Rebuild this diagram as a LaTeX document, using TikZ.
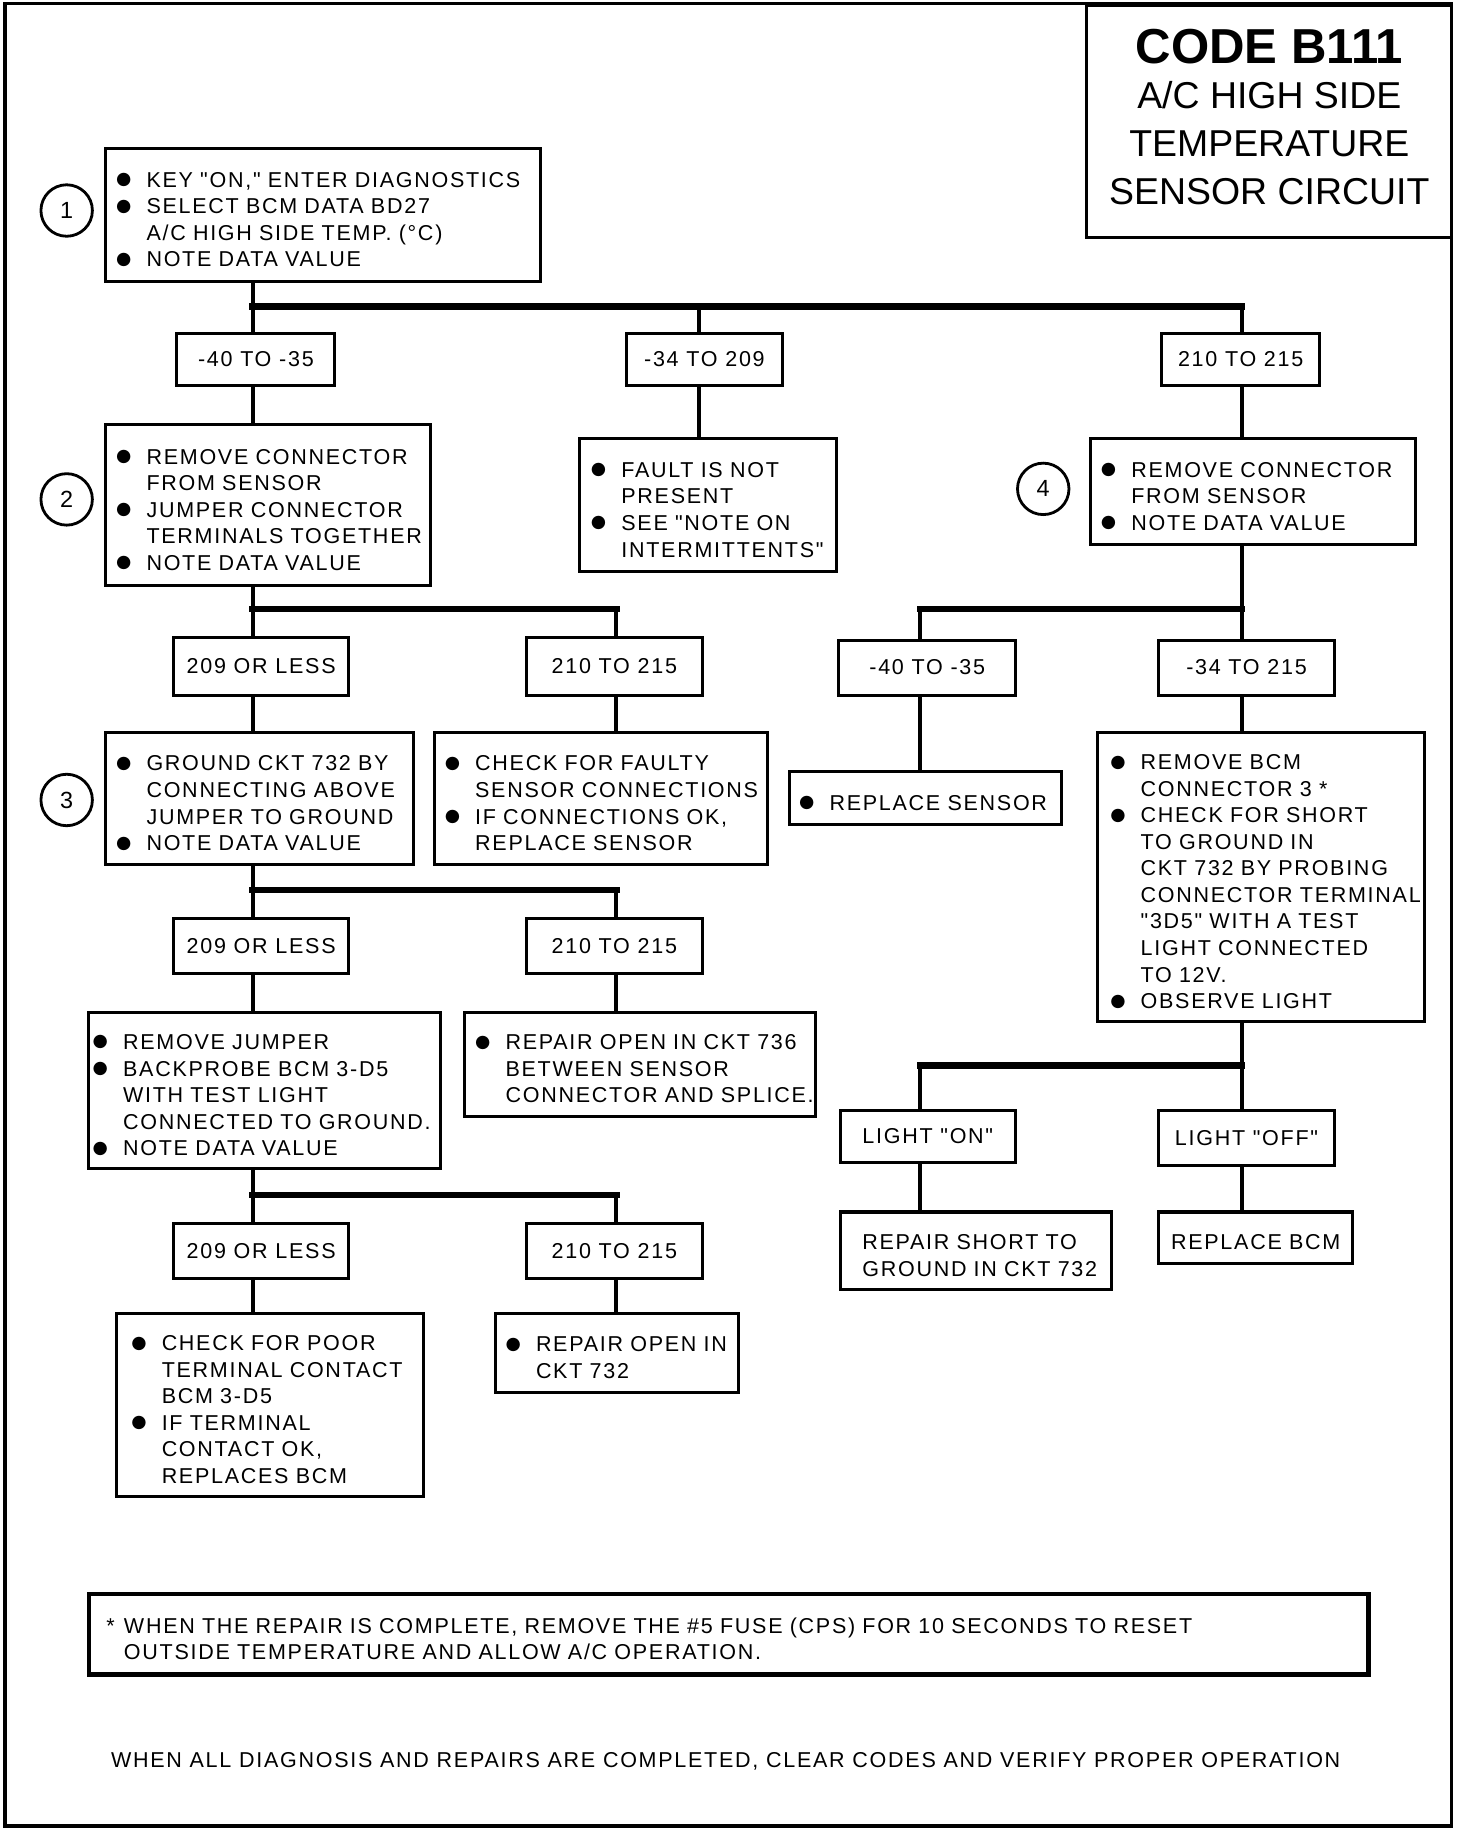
\documentclass[tikz,border=0pt]{standalone}
\usepackage{fontspec}
\setmainfont{Liberation Sans}
\newfontfamily\bodyfont[LetterSpace=8]{Liberation Sans}
\newfontfamily\symfont{DejaVu Sans}
\newcommand{\stepfont}{\bodyfont\fontsize{9.2pt}{11.35pt}\selectfont}
\newcommand{\bulletmark}{\raisebox{1.1pt}[0pt][0pt]{\symfont\fontsize{7.5pt}{7.5pt}\selectfont ●}}
\newcommand{\itemline}[1]{\mbox{\makebox[10.5pt][l]{\hspace*{-2.5pt}\bulletmark}#1}}
\newcommand{\indline}[1]{\mbox{\hspace*{10.5pt}#1}}

\begin{document}
\begin{tikzpicture}[x=0.5pt, y=-0.5pt]

\tikzstyle{stepbox}=[draw, line width=1.3pt, anchor=north west, inner xsep=7pt, inner ysep=0pt, align=left, font=\stepfont, execute at begin node={\rule{0pt}{10.5pt}}]
\tikzstyle{rangebox}=[draw, line width=1.3pt, anchor=north west, inner sep=0pt, align=center, font=\stepfont]
\tikzstyle{stepnum}=[circle, draw, line width=1.2pt, minimum size=22pt, inner sep=0pt, font=\fontsize{10pt}{10pt}\selectfont]
\tikzstyle{wire}=[line width=1.7pt]
\tikzstyle{bus}=[line width=2.7pt, line cap=rect]

\useasboundingbox (0,0) rectangle (1245,1563);
\draw[line width=1.6pt] (4,3) rectangle (1241,1561);

% title
\node[draw, line width=1.3pt, anchor=north west, minimum width=156pt, minimum height=99.5pt, inner sep=0pt, align=center, font=\fontsize{16pt}{20.5pt}\selectfont] (title) at (928,3)
  {{\bfseries\fontsize{21pt}{21pt}\selectfont CODE B111}\\[-1.5pt]A/C HIGH SIDE\\TEMPERATURE\\SENSOR CIRCUIT\rule[-4pt]{0pt}{4pt}};

% step numbers
\node[stepnum] (n1) at (57,180) {1};
\node[stepnum] (n2) at (57,427) {2};
\node[stepnum] (n3) at (57,684) {3};
\node[stepnum] (n4) at (892,418) {4};

% step 1
\node[stepbox, text width=172pt, minimum height=56.5pt] (b1) at (89,126)
  {\itemline{KEY "ON," ENTER DIAGNOSTICS}\\\itemline{SELECT BCM DATA BD27}\\\indline{A/C HIGH SIDE TEMP. (°C)}\\\itemline{NOTE DATA VALUE}};

\node[rangebox, minimum width=67.5pt, minimum height=22pt] (r1a) at (150,284) {-40 TO -35};
\node[rangebox, minimum width=67pt, minimum height=22pt] (r1b) at (534,284) {-34 TO 209};
\node[rangebox, minimum width=67.5pt, minimum height=22pt] (r1c) at (992,284) {210 TO 215};

% step 2, fault not present, step 4
\node[stepbox, text width=125pt, minimum height=68.5pt] (b2) at (89,362)
  {\itemline{REMOVE CONNECTOR}\\\indline{FROM SENSOR}\\\itemline{JUMPER CONNECTOR}\\\indline{TERMINALS TOGETHER}\\\itemline{NOTE DATA VALUE}};
\node[stepbox, inner xsep=7.5pt, text width=95pt, minimum height=56.5pt] (bf) at (494,374)
  {\itemline{FAULT IS NOT}\\\indline{PRESENT}\\\itemline{SEE "NOTE ON}\\\indline{INTERMITTENTS"}};
\node[stepbox, text width=125pt, minimum height=45pt] (b4) at (931,374)
  {\itemline{REMOVE CONNECTOR}\\\indline{FROM SENSOR}\\\itemline{NOTE DATA VALUE}};

\node[rangebox, minimum width=75pt, minimum height=24.5pt] (r2a) at (147,544) {209 OR LESS};
\node[rangebox, minimum width=75pt, minimum height=24.5pt] (r2b) at (449,544) {210 TO 215};
\node[rangebox, minimum width=75.5pt, minimum height=23.5pt] (r4a) at (716,546) {-40 TO -35};
\node[rangebox, minimum width=75.5pt, minimum height=23.5pt] (r4b) at (989,546) {-34 TO 215};

% step 3 and neighbours
\node[stepbox, text width=117.5pt, minimum height=56.5pt] (b3) at (89,625)
  {\itemline{GROUND CKT 732 BY}\\\indline{CONNECTING ABOVE}\\\indline{JUMPER TO GROUND}\\\itemline{NOTE DATA VALUE}};
\node[stepbox, text width=128.5pt, minimum height=56.5pt] (bc) at (370,625)
  {\itemline{CHECK FOR FAULTY}\\\indline{SENSOR CONNECTIONS}\\\itemline{IF CONNECTIONS OK,}\\\indline{REPLACE SENSOR}};
\node[stepbox, inner xsep=6.5pt, text width=103pt, minimum height=23pt] (bs) at (674,658)
  {\itemline{REPLACE SENSOR}};
\node[stepbox, inner xsep=8pt, text width=124pt, minimum height=123.5pt] (bb) at (937,625)
  {\itemline{REMOVE BCM}\\\indline{CONNECTOR 3 *}\\\itemline{CHECK FOR SHORT}\\\indline{TO GROUND IN}\\\indline{CKT 732 BY PROBING}\\\indline{CONNECTOR TERMINAL}\\\indline{"3D5" WITH A TEST}\\\indline{LIGHT CONNECTED}\\\indline{TO 12V.}\\\itemline{OBSERVE LIGHT}};

\node[rangebox, minimum width=75pt, minimum height=23.5pt] (r3a) at (147,784) {209 OR LESS};
\node[rangebox, minimum width=75pt, minimum height=23.5pt] (r3b) at (449,784) {210 TO 215};

\node[stepbox, inner xsep=4.5pt, text width=141.5pt, minimum height=67pt] (bj) at (74,864)
  {\itemline{REMOVE JUMPER}\\\itemline{BACKPROBE BCM 3-D5}\\\indline{WITH TEST LIGHT}\\\indline{CONNECTED TO GROUND.}\\\itemline{NOTE DATA VALUE}};
\node[stepbox, text width=136pt, minimum height=44.5pt] (bo) at (396,864)
  {\itemline{REPAIR OPEN IN CKT 736}\\\indline{BETWEEN SENSOR}\\\indline{CONNECTOR AND SPLICE.}};

\node[rangebox, minimum width=75pt, minimum height=22.5pt] (ron) at (717,948) {LIGHT "ON"};
\node[rangebox, minimum width=75.5pt, minimum height=23.5pt] (roff) at (989,948) {LIGHT "OFF"};
\node[stepbox, inner xsep=9.5pt, text width=97pt, minimum height=33pt] (bsh) at (717,1035)
  {\mbox{REPAIR SHORT TO}\\\mbox{GROUND IN CKT 732}};
\node[stepbox, inner xsep=5.5pt, text width=72pt, minimum height=22pt] (bbcm) at (989,1035)
  {\mbox{REPLACE BCM}};

\node[rangebox, minimum width=75pt, minimum height=23.5pt] (r5a) at (147,1045) {209 OR LESS};
\node[rangebox, minimum width=75pt, minimum height=23.5pt] (r5b) at (449,1045) {210 TO 215};

\node[stepbox, inner xsep=9pt, text width=113.5pt, minimum height=78pt] (bp) at (98,1122)
  {\itemline{CHECK FOR POOR}\\\indline{TERMINAL CONTACT}\\\indline{BCM 3-D5}\\\itemline{IF TERMINAL}\\\indline{CONTACT OK,}\\\indline{REPLACES BCM}};
\node[stepbox, text width=90pt, minimum height=33.5pt] (b732) at (422,1122)
  {\itemline{REPAIR OPEN IN}\\\indline{CKT 732}};

% notes
\node[stepbox, line width=2pt, inner xsep=7.5pt, text width=532pt, minimum height=34.5pt, execute at begin node={}] (note) at (74,1361)
  {\mbox{\makebox[7.5pt][l]{*}WHEN THE REPAIR IS COMPLETE, REMOVE THE \#5 FUSE (CPS) FOR 10 SECONDS TO RESET}\\\mbox{\hspace*{7.5pt}OUTSIDE TEMPERATURE AND ALLOW A/C OPERATION.}};
\node[font=\stepfont] (done) at (620.5,1506) {WHEN ALL DIAGNOSIS AND REPAIRS ARE COMPLETED, CLEAR CODES AND VERIFY PROPER OPERATION};

% connectors
\coordinate (j1) at (216,262);
\coordinate (j1m) at (598,262);
\coordinate (j1r) at (1062,262);
\draw[wire] (b1.south -| j1) -- (j1);
\draw[bus] (j1) -- (j1r);
\draw[wire] (j1) -- (j1 |- r1a.north) (j1 |- r1a.south) -- (j1 |- b2.north);
\draw[wire] (j1m) -- (j1m |- r1b.north) (j1m |- r1b.south) -- (j1m |- bf.north);
\draw[wire] (j1r) -- (j1r |- r1c.north) (j1r |- r1c.south) -- (j1r |- b4.north);

\coordinate (j2) at (216,521);
\coordinate (j2r) at (527,521);
\draw[wire] (b2.south -| j2) -- (j2);
\draw[bus] (j2) -- (j2r);
\draw[wire] (j2) -- (j2 |- r2a.north) (j2 |- r2a.south) -- (j2 |- b3.north);
\draw[wire] (j2r) -- (j2r |- r2b.north) (j2r |- r2b.south) -- (j2r |- bc.north);

\coordinate (j4) at (1062,521);
\coordinate (j4l) at (787,521);
\draw[wire] (b4.south -| j4) -- (j4);
\draw[bus] (j4l) -- (j4);
\draw[wire] (j4l) -- (j4l |- r4a.north) (j4l |- r4a.south) -- (j4l |- bs.north);
\draw[wire] (j4) -- (j4 |- r4b.north) (j4 |- r4b.south) -- (j4 |- bb.north);

\coordinate (j3) at (216,761);
\coordinate (j3r) at (527,761);
\draw[wire] (b3.south -| j3) -- (j3);
\draw[bus] (j3) -- (j3r);
\draw[wire] (j3) -- (j3 |- r3a.north) (j3 |- r3a.south) -- (j3 |- bj.north);
\draw[wire] (j3r) -- (j3r |- r3b.north) (j3r |- r3b.south) -- (j3r |- bo.north);

\coordinate (j6) at (1062,911);
\coordinate (j6l) at (787,911);
\draw[wire] (bb.south -| j6) -- (j6);
\draw[bus] (j6l) -- (j6);
\draw[wire] (j6l) -- (j6l |- ron.north) (j6l |- ron.south) -- (j6l |- bsh.north);
\draw[wire] (j6) -- (j6 |- roff.north) (j6 |- roff.south) -- (j6 |- bbcm.north);

\coordinate (j5) at (216,1022);
\coordinate (j5r) at (527,1022);
\draw[wire] (bj.south -| j5) -- (j5);
\draw[bus] (j5) -- (j5r);
\draw[wire] (j5) -- (j5 |- r5a.north) (j5 |- r5a.south) -- (j5 |- bp.north);
\draw[wire] (j5r) -- (j5r |- r5b.north) (j5r |- r5b.south) -- (j5r |- b732.north);

\end{tikzpicture}
\end{document}
